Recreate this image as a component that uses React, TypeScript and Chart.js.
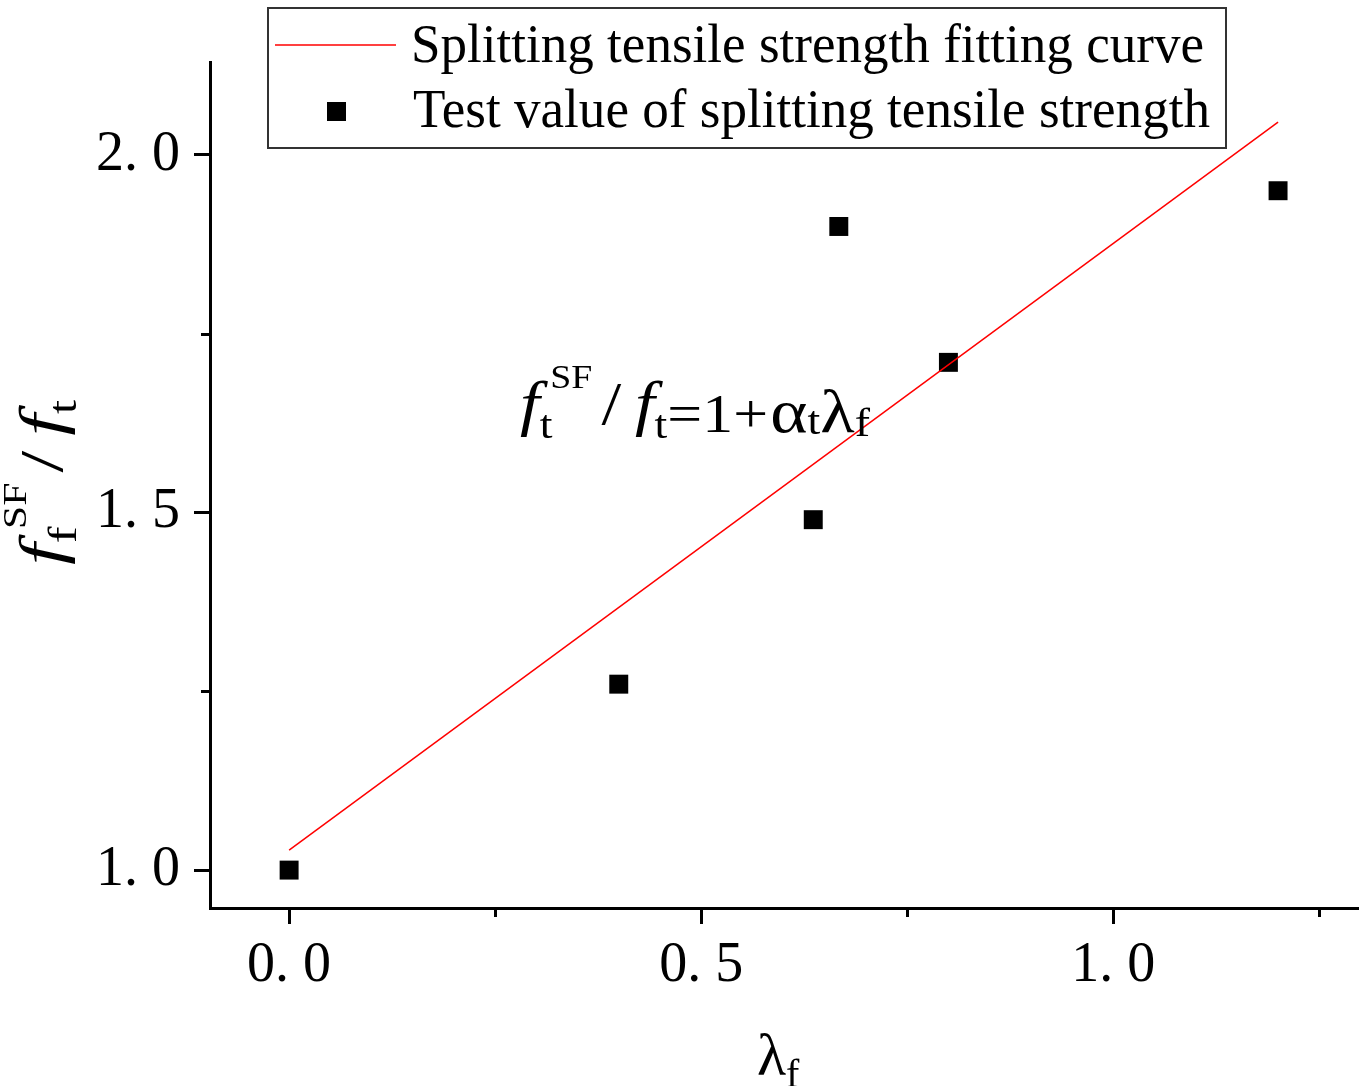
import React, { useEffect, useRef } from "react";
import { Chart, registerables } from "chart.js";

Chart.register(...registerables);

// ---- data ----
const testX = [0, 0.4, 0.636, 0.667, 0.8, 1.2];
const testY = [1.0, 1.26, 1.49, 1.9, 1.71, 1.95];
const fitX = [0, 1.2];
const fitY = [1.028, 2.046];
const xMajorTicks = [0, 0.5, 1.0];
const xMinorTicks = [0.25, 0.75, 1.25];
const yMajorTicks = [1.0, 1.5, 2.0];
const yMinorTicks = [1.25, 1.75];
const X_MIN = -0.096;
const X_MAX = 1.297;
const Y_MIN = 0.947;
const Y_MAX = 2.13;
const legendLabels = [
  "Splitting tensile strength fitting curve",
  "Test value of splitting tensile strength",
];

const SERIF = "'Liberation Serif', 'Times New Roman', serif";

type Seg = { t: string; size: number; italic?: boolean; dy: number; gap?: number };

function drawSegs(ctx: CanvasRenderingContext2D, segs: Seg[], x: number, y: number, targetW?: number) {
  ctx.save();
  const widths = segs.map((s) => {
    ctx.font = `${s.italic ? "italic " : ""}${s.size}px ${SERIF}`;
    return ctx.measureText(s.t).width + (s.gap || 0);
  });
  const total = widths.reduce((a, b) => a + b, 0);
  const sx = targetW ? targetW / total : 1;
  ctx.translate(x, y);
  ctx.scale(sx, 1);
  ctx.textBaseline = "alphabetic";
  ctx.textAlign = "left";
  ctx.fillStyle = "#000";
  let cx = 0;
  segs.forEach((s, i) => {
    ctx.font = `${s.italic ? "italic " : ""}${s.size}px ${SERIF}`;
    ctx.fillText(s.t, cx + (s.gap || 0), s.dy);
    cx += widths[i];
  });
  ctx.restore();
}

function drawFitted(ctx: CanvasRenderingContext2D, text: string, size: number, x: number, y: number, w: number) {
  ctx.save();
  ctx.font = `${size}px ${SERIF}`;
  const m = ctx.measureText(text).width;
  ctx.translate(x, y);
  ctx.scale(w / m, 1);
  ctx.fillStyle = "#000";
  ctx.textBaseline = "alphabetic";
  ctx.textAlign = "left";
  ctx.fillText(text, 0, 0);
  ctx.restore();
}

const fmt = (v: number | string) => Number(v).toFixed(1).replace(".", ". ");

const ratioSegs = (num: string, den: string): Seg[] => [
  { t: "f", size: 62, italic: true, dy: -8 },
  { t: num, size: 40, dy: 6, gap: 0 },
  { t: "SF", size: 33, dy: -44, gap: -2 },
  { t: "/", size: 62, dy: -8, gap: 8 },
  { t: "f", size: 62, italic: true, dy: -8, gap: 12 },
  { t: den, size: 40, dy: 6, gap: 0 },
];

const decorPlugin = {
  id: "decor",
  afterDraw(chart: any) {
    const ctx: CanvasRenderingContext2D = chart.ctx;
    const xs = chart.scales.x;
    const ys = chart.scales.y;
    const area = chart.chartArea;
    ctx.save();
    // minor ticks
    ctx.strokeStyle = "#000";
    ctx.lineWidth = 3;
    xMinorTicks.forEach((v) => {
      const px = Math.round(xs.getPixelForValue(v)) + 0.5;
      ctx.beginPath();
      ctx.moveTo(px, area.bottom);
      ctx.lineTo(px, area.bottom + 9);
      ctx.stroke();
    });
    yMinorTicks.forEach((v) => {
      const py = Math.round(ys.getPixelForValue(v)) + 0.5;
      ctx.beginPath();
      ctx.moveTo(area.left, py);
      ctx.lineTo(area.left - 9, py);
      ctx.stroke();
    });

    // legend
    ctx.fillStyle = "#fff";
    ctx.fillRect(268, 8, 958, 140);
    ctx.strokeStyle = "#333";
    ctx.lineWidth = 2;
    ctx.strokeRect(268, 8, 958, 140);
    ctx.strokeStyle = "#ff0000";
    ctx.lineWidth = 1.5;
    ctx.beginPath();
    ctx.moveTo(275, 45);
    ctx.lineTo(396, 45);
    ctx.stroke();
    ctx.fillStyle = "#000";
    ctx.fillRect(327, 102, 19, 19);
    drawFitted(ctx, legendLabels[0], 54, 411, 62, 793);
    drawFitted(ctx, legendLabels[1], 54, 413, 127, 797);

    // equation
    drawSegs(
      ctx,
      [
        ...ratioSegs("t", "t"),
        { t: "=1+", size: 54, dy: 0 },
        { t: "\u03b1", size: 62, dy: 0, gap: 2 },
        { t: "t", size: 40, dy: 2 },
        { t: "\u03bb", size: 62, dy: 0 },
        { t: "f", size: 40, dy: 4 },
      ],
      520,
      432,
      350
    );

    // y-axis title (rotated)
    ctx.save();
    ctx.translate(70, 565);
    ctx.rotate(-Math.PI / 2);
    drawSegs(ctx, ratioSegs("f", "t"), 0, 0, 165);
    ctx.restore();

    // x-axis title
    drawSegs(
      ctx,
      [
        { t: "\u03bb", size: 60, dy: 0 },
        { t: "f", size: 40, dy: 12 },
      ],
      757,
      1075
    );
    ctx.restore();
  },
};

export default function App() {
  const ref = useRef<HTMLCanvasElement>(null);
  useEffect(() => {
    if (!ref.current) return;
    const axisCommon = {
      type: "linear" as const,
      grid: {
        display: true,
        drawOnChartArea: false,
        drawTicks: true,
        tickLength: 16,
        tickWidth: 3,
        tickColor: "#000",
      },
      border: { display: true, width: 3, color: "#000" },
    };
    const chart = new Chart(ref.current, {
      type: "scatter",
      data: {
        datasets: [
          {
            label: legendLabels[0],
            data: fitX.map((x, i) => ({ x, y: fitY[i] })),
            showLine: true,
            borderColor: "#ff0000",
            borderWidth: 1.5,
            pointRadius: 0,
            fill: false,
          },
          {
            label: legendLabels[1],
            data: testX.map((x, i) => ({ x, y: testY[i] })),
            pointStyle: "rect",
            pointRadius: 13.4,
            backgroundColor: "#000",
            borderColor: "#000",
            borderWidth: 0,
          },
        ],
      },
      options: {
        animation: false,
        responsive: false,
        maintainAspectRatio: false,
        layout: { autoPadding: false, padding: { top: 62, right: 6, left: 0, bottom: 0 } },
        plugins: { legend: { display: false }, tooltip: { enabled: false } },
        scales: {
          x: {
            ...axisCommon,
            min: X_MIN,
            max: X_MAX,
            afterFit: (s: any) => {
              s.height = 178;
            },
            afterBuildTicks: (s: any) => {
              s.ticks = xMajorTicks.map((v) => ({ value: v }));
            },
            ticks: {
              color: "#000",
              font: { family: SERIF, size: 56 },
              padding: 9,
              maxRotation: 0,
              autoSkip: false,
              callback: fmt,
            },
          },
          y: {
            ...axisCommon,
            min: Y_MIN,
            max: Y_MAX,
            afterFit: (s: any) => {
              s.width = 210;
            },
            afterBuildTicks: (s: any) => {
              s.ticks = yMajorTicks.map((v) => ({ value: v }));
            },
            ticks: {
              color: "#000",
              font: { family: SERIF, size: 56 },
              padding: 14,
              autoSkip: false,
              callback: fmt,
            },
          },
        },
      } as any,
      plugins: [decorPlugin],
    });
    return () => chart.destroy();
  }, []);
  return (
    <div style={{ position: "absolute", left: 0, top: 0, width: 1364, height: 1086, background: "#fff" }}>
      <canvas ref={ref} width={1364} height={1086} style={{ display: "block" }} />
    </div>
  );
}
